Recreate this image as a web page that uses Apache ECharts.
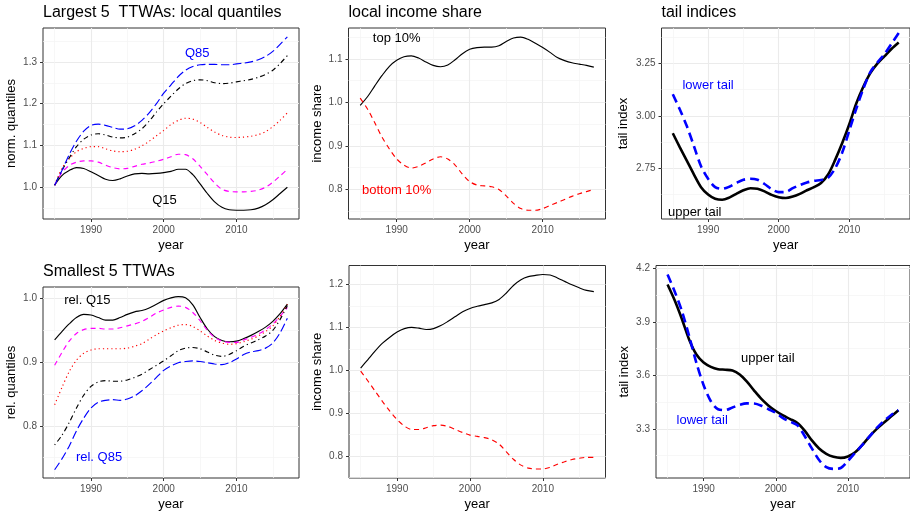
<!DOCTYPE html>
<html>
<head>
<meta charset="utf-8">
<script src="https://cdn.jsdelivr.net/npm/echarts@6/dist/echarts.min.js"></script>
<style>
  html, body { margin: 0; padding: 0; background: #ffffff; }
  #chart { width: 910px; height: 512px; }
</style>
</head>
<body>
<div id="chart"></div>
<script>
// Years at which the smoothed series are sampled
const years = [1985, 1986, 1987, 1988, 1989, 1990, 1991, 1992, 1993, 1994, 1995, 1996, 1997, 1998, 1999, 2000,
               2001, 2002, 2003, 2004, 2005, 2006, 2007, 2008, 2009, 2010, 2011, 2012, 2013, 2014, 2015, 2016, 2017];

// Largest 5 TTWAs: local quantiles, normalised to 1985
const largeQ15 = [1.005, 1.028, 1.040, 1.047, 1.045, 1.037, 1.028, 1.019, 1.016, 1.020, 1.027, 1.032, 1.033, 1.032, 1.033, 1.035,
                  1.038, 1.043, 1.043, 1.030, 1.008, 0.985, 0.965, 0.952, 0.946, 0.945, 0.945, 0.946, 0.950, 0.958, 0.970, 0.985, 1.000];
const largeQ30 = [1.005, 1.035, 1.052, 1.060, 1.063, 1.063, 1.060, 1.053, 1.047, 1.044, 1.045, 1.050, 1.055, 1.058, 1.062, 1.067,
                  1.073, 1.079, 1.078, 1.068, 1.050, 1.030, 1.010, 0.995, 0.990, 0.989, 0.989, 0.990, 0.993, 1.000, 1.012, 1.027, 1.043];
const largeQ50 = [1.005, 1.045, 1.068, 1.085, 1.093, 1.097, 1.097, 1.092, 1.087, 1.085, 1.086, 1.091, 1.099, 1.110, 1.123, 1.136,
                  1.150, 1.160, 1.165, 1.163, 1.155, 1.143, 1.132, 1.124, 1.120, 1.119, 1.120, 1.122, 1.126, 1.133, 1.145, 1.160, 1.178];
const largeQ70 = [1.005, 1.040, 1.070, 1.097, 1.115, 1.125, 1.128, 1.125, 1.120, 1.118, 1.120, 1.128, 1.140, 1.158, 1.180, 1.200,
                  1.218, 1.235, 1.248, 1.255, 1.257, 1.255, 1.250, 1.248, 1.249, 1.252, 1.255, 1.258, 1.263, 1.270, 1.280, 1.296, 1.315];
const largeQ85 = [1.005, 1.040, 1.078, 1.110, 1.134, 1.148, 1.151, 1.148, 1.143, 1.139, 1.140, 1.147, 1.160, 1.178, 1.200, 1.225,
                  1.245, 1.265, 1.280, 1.289, 1.293, 1.294, 1.294, 1.293, 1.293, 1.295, 1.297, 1.300, 1.305, 1.313, 1.325, 1.342, 1.360];

// Largest 5 TTWAs: local income shares
const largeTop10 = [0.993, 1.013, 1.038, 1.062, 1.083, 1.097, 1.105, 1.107, 1.102, 1.093, 1.085, 1.082, 1.086, 1.098, 1.112, 1.122,
                    1.126, 1.127, 1.127, 1.130, 1.140, 1.148, 1.150, 1.145, 1.136, 1.126, 1.115, 1.103, 1.096, 1.091, 1.088, 1.085, 1.081];
const largeBottom10 = [1.010, 0.985, 0.953, 0.920, 0.893, 0.870, 0.856, 0.849, 0.853, 0.861, 0.870, 0.875, 0.870, 0.856, 0.835, 0.818,
                       0.810, 0.808, 0.806, 0.800, 0.785, 0.768, 0.756, 0.752, 0.752, 0.756, 0.763, 0.770, 0.777, 0.784, 0.790, 0.795, 0.800];

// Largest 5 TTWAs: tail indices
const largeUpperTail = [2.917, 2.850, 2.785, 2.720, 2.660, 2.625, 2.605, 2.600, 2.610, 2.628, 2.645, 2.655, 2.652, 2.640, 2.623, 2.612,
                        2.608, 2.615, 2.628, 2.645, 2.660, 2.680, 2.720, 2.790, 2.870, 2.960, 3.060, 3.140, 3.205, 3.250, 3.285, 3.320, 3.350];
const largeLowerTail = [3.103, 3.030, 2.950, 2.855, 2.760, 2.700, 2.660, 2.652, 2.662, 2.680, 2.695, 2.700, 2.695, 2.675, 2.650, 2.636,
                        2.637, 2.655, 2.670, 2.682, 2.690, 2.694, 2.705, 2.750, 2.825, 2.930, 3.035, 3.130, 3.210, 3.255, 3.295, 3.345, 3.395];

// Smallest 5 TTWAs: quantiles relative to the largest
const smallQ15 = [0.935, 0.948, 0.960, 0.970, 0.975, 0.974, 0.970, 0.966, 0.966, 0.970, 0.975, 0.979, 0.981, 0.985, 0.991, 0.997,
                  1.001, 1.003, 1.001, 0.990, 0.970, 0.952, 0.940, 0.934, 0.932, 0.933, 0.937, 0.942, 0.948, 0.955, 0.964, 0.976, 0.991];
const smallQ30 = [0.895, 0.915, 0.933, 0.945, 0.951, 0.953, 0.953, 0.952, 0.952, 0.954, 0.957, 0.960, 0.964, 0.970, 0.977, 0.982,
                  0.986, 0.988, 0.986, 0.978, 0.965, 0.950, 0.939, 0.933, 0.931, 0.931, 0.935, 0.939, 0.944, 0.951, 0.960, 0.972, 0.986];
const smallQ50 = [0.833, 0.860, 0.885, 0.903, 0.914, 0.919, 0.921, 0.921, 0.921, 0.921, 0.922, 0.925, 0.929, 0.936, 0.943, 0.949,
                  0.954, 0.958, 0.959, 0.956, 0.949, 0.941, 0.934, 0.930, 0.928, 0.929, 0.932, 0.936, 0.941, 0.948, 0.957, 0.972, 0.991];
const smallQ70 = [0.770, 0.785, 0.805, 0.828, 0.848, 0.862, 0.869, 0.871, 0.870, 0.870, 0.872, 0.876, 0.881, 0.888, 0.895, 0.902,
                  0.910, 0.918, 0.922, 0.923, 0.921, 0.916, 0.911, 0.909, 0.912, 0.918, 0.925, 0.930, 0.935, 0.941, 0.950, 0.967, 0.989];
const smallQ85 = [0.731, 0.748, 0.768, 0.792, 0.812, 0.828, 0.837, 0.840, 0.841, 0.840, 0.842, 0.847, 0.855, 0.865, 0.876, 0.887,
                  0.894, 0.899, 0.901, 0.902, 0.901, 0.899, 0.897, 0.896, 0.899, 0.905, 0.912, 0.916, 0.918, 0.922, 0.930, 0.946, 0.969];

// Smallest 5 TTWAs: local income shares
const smallTop10 = [1.005, 1.025, 1.045, 1.063, 1.077, 1.089, 1.097, 1.100, 1.098, 1.095, 1.097, 1.104, 1.114, 1.125, 1.136, 1.144,
                    1.149, 1.153, 1.157, 1.165, 1.180, 1.198, 1.211, 1.218, 1.221, 1.223, 1.222, 1.215, 1.207, 1.199, 1.192, 1.186, 1.183];
const smallBottom10 = [0.998, 0.975, 0.951, 0.927, 0.905, 0.885, 0.870, 0.862, 0.862, 0.866, 0.871, 0.872, 0.869, 0.862, 0.855, 0.849,
                       0.846, 0.843, 0.838, 0.828, 0.810, 0.792, 0.779, 0.772, 0.770, 0.770, 0.774, 0.781, 0.787, 0.792, 0.795, 0.797, 0.797];

// Smallest 5 TTWAs: tail indices
const smallUpperTail = [4.110, 4.020, 3.915, 3.800, 3.717, 3.672, 3.648, 3.635, 3.632, 3.627, 3.605, 3.565, 3.515, 3.468, 3.430, 3.400,
                        3.375, 3.355, 3.333, 3.290, 3.235, 3.190, 3.160, 3.143, 3.137, 3.145, 3.168, 3.210, 3.258, 3.300, 3.335, 3.370, 3.404];
const smallLowerTail = [4.166, 4.070, 3.960, 3.820, 3.670, 3.545, 3.455, 3.410, 3.405, 3.420, 3.435, 3.443, 3.442, 3.430, 3.410, 3.390,
                        3.360, 3.340, 3.320, 3.260, 3.190, 3.125, 3.085, 3.075, 3.080, 3.120, 3.165, 3.210, 3.258, 3.305, 3.345, 3.378, 3.405];

// Tick values
const xTicks = [1990, 2000, 2010];
const xMinorTicks = [1985, 1995, 2005, 2015];
const yTicksLargeQ = [1.0, 1.1, 1.2, 1.3];
const yMinorLargeQ = [0.95, 1.05, 1.15, 1.25, 1.35];
const yTicksLargeShare = [0.8, 0.9, 1.0, 1.1];
const yMinorLargeShare = [0.75, 0.85, 0.95, 1.05, 1.15];
const yTicksLargeTail = [2.75, 3.0, 3.25];
const yMinorLargeTail = [2.625, 2.875, 3.125, 3.375];
const yTicksSmallQ = [0.8, 0.9, 1.0];
const yMinorSmallQ = [0.75, 0.85, 0.95];
const yTicksSmallShare = [0.8, 0.9, 1.0, 1.1, 1.2];
const yMinorSmallShare = [0.75, 0.85, 0.95, 1.05, 1.15];
const yTicksSmallTail = [3.3, 3.6, 3.9, 4.2];
const yMinorSmallTail = [3.15, 3.45, 3.75, 4.05];

// ---- styling ----
const FONT = '"Liberation Sans", Arial, Helvetica, sans-serif';
const BLUE = '#0000ff', RED = '#ff0000', MAGENTA = '#ff00ff', BLACK = '#000000';
const THIN = 1.15, THICK = 2.6;
const styles = {
  solid:    { width: THIN, type: 'solid' },
  dashed:   { width: THIN, type: [5, 4] },
  dotted:   { width: THIN, type: [1.2, 3] },
  dotdash:  { width: THIN, type: [1.2, 3.2, 5, 3.2] },
  longdash: { width: THIN, type: [8.5, 3.5] },
  thickSolid:  { width: THICK, type: 'solid' },
  thickDashed: { width: THICK, type: [9, 5] }
};
const xRange = [1983.4, 2018.6];

const panels = [
  {
    title: 'Largest 5  TTWAs: local quantiles',
    rect: { left: 43, top: 28, width: 256, height: 191 },
    yRange: [0.924, 1.381], yTicks: yTicksLargeQ, yMinor: yMinorLargeQ, digits: 1,
    yName: 'norm. quantiles', yNameGap: 25,
    lines: [
      { data: largeQ15, color: BLACK, style: 'solid' },
      { data: largeQ30, color: MAGENTA, style: 'dashed' },
      { data: largeQ50, color: RED, style: 'dotted' },
      { data: largeQ70, color: BLACK, style: 'dotdash' },
      { data: largeQ85, color: BLUE, style: 'longdash' }
    ],
    notes: [
      { text: 'Q85', at: [2004.6, 1.321], color: BLUE },
      { text: 'Q15', at: [2000.1, 0.969], color: BLACK }
    ]
  },
  {
    title: 'local income share',
    rect: { left: 348.5, top: 28, width: 257, height: 191 },
    yRange: [0.732, 1.171], yTicks: yTicksLargeShare, yMinor: yMinorLargeShare, digits: 1,
    yName: 'income share', yNameGap: 25,
    lines: [
      { data: largeTop10, color: BLACK, style: 'solid' },
      { data: largeBottom10, color: RED, style: 'dashed' }
    ],
    notes: [
      { text: 'top 10%', at: [1990, 1.148], color: BLACK },
      { text: 'bottom 10%', at: [1990, 0.798], color: RED }
    ]
  },
  {
    title: 'tail indices',
    rect: { left: 661.5, top: 28, width: 252, height: 191 },
    yRange: [2.508, 3.419], yTicks: yTicksLargeTail, yMinor: yMinorLargeTail, digits: 2,
    yName: 'tail index', yNameGap: 32,
    lines: [
      { data: largeUpperTail, color: BLACK, style: 'thickSolid' },
      { data: largeLowerTail, color: BLUE, style: 'thickDashed' }
    ],
    notes: [
      { text: 'lower tail', at: [1990, 3.145], color: BLUE },
      { text: 'upper tail', at: [1988.1, 2.54], color: BLACK }
    ]
  },
  {
    title: 'Smallest 5 TTWAs',
    rect: { left: 43, top: 287, width: 256, height: 191 },
    yRange: [0.718, 1.018], yTicks: yTicksSmallQ, yMinor: yMinorSmallQ, digits: 1,
    yName: 'rel. quantiles', yNameGap: 25,
    lines: [
      { data: smallQ15, color: BLACK, style: 'solid' },
      { data: smallQ30, color: MAGENTA, style: 'dashed' },
      { data: smallQ50, color: RED, style: 'dotted' },
      { data: smallQ70, color: BLACK, style: 'dotdash' },
      { data: smallQ85, color: BLUE, style: 'longdash' }
    ],
    notes: [
      { text: 'rel. Q15', at: [1989.5, 0.997], color: BLACK },
      { text: 'rel. Q85', at: [1991.1, 0.75], color: BLUE }
    ]
  },
  {
    title: '',
    rect: { left: 349, top: 265.5, width: 256.5, height: 212.5 },
    yRange: [0.749, 1.244], yTicks: yTicksSmallShare, yMinor: yMinorSmallShare, digits: 1,
    yName: 'income share', yNameGap: 25,
    lines: [
      { data: smallTop10, color: BLACK, style: 'solid' },
      { data: smallBottom10, color: RED, style: 'dashed' }
    ],
    notes: []
  },
  {
    title: '',
    rect: { left: 656, top: 265.5, width: 255, height: 212.5 },
    yRange: [3.024, 4.217], yTicks: yTicksSmallTail, yMinor: yMinorSmallTail, digits: 1,
    yName: 'tail index', yNameGap: 25,
    lines: [
      { data: smallUpperTail, color: BLACK, style: 'thickSolid' },
      { data: smallLowerTail, color: BLUE, style: 'thickDashed' }
    ],
    notes: [
      { text: 'upper tail', at: [1998.9, 3.693], color: BLACK },
      { text: 'lower tail', at: [1989.8, 3.349], color: BLUE }
    ]
  }
];

const grid = [], xAxis = [], yAxis = [], series = [], title = [];
const majorSplit = { show: true, lineStyle: { color: '#ebebeb', width: 1.1 } };
const minorSplit = { show: true, lineStyle: { color: '#f4f4f4', width: 0.7 } };
const tickStyle = { color: '#333333', width: 1 };
const tickLabel = { color: '#4d4d4d', fontSize: 10, fontFamily: FONT };
const axisName = { color: '#000000', fontSize: 13, fontFamily: FONT };

panels.forEach((p, i) => {
  grid.push(Object.assign({ show: true, borderColor: '#333333', borderWidth: 1, backgroundColor: '#ffffff', containLabel: false }, p.rect));
  if (p.title) {
    title.push({
      text: p.title, left: p.rect.left, top: p.rect.top - 23, padding: 0,
      textStyle: { fontSize: 16, fontWeight: 'normal', color: '#000000', fontFamily: FONT }
    });
  }
  // main x axis
  xAxis.push({
    type: 'value', gridIndex: i, min: xRange[0], max: xRange[1], position: 'bottom',
    axisLine: { show: false },
    axisTick: { show: true, length: 3, lineStyle: tickStyle, customValues: xTicks },
    axisLabel: Object.assign({ customValues: xTicks, margin: 6, formatter: v => String(Math.round(v)) }, tickLabel),
    splitLine: majorSplit,
    name: 'year', nameLocation: 'middle', nameGap: 20, nameTextStyle: axisName
  });
  // minor x grid lines
  xAxis.push({
    type: 'value', gridIndex: i, min: xRange[0], max: xRange[1], position: 'bottom',
    axisLine: { show: false }, axisLabel: { show: false },
    axisTick: { show: false, customValues: xMinorTicks },
    splitLine: minorSplit
  });
  // main y axis
  yAxis.push({
    type: 'value', gridIndex: i, min: p.yRange[0], max: p.yRange[1], position: 'left',
    axisLine: { show: false },
    axisTick: { show: true, length: 3, lineStyle: tickStyle, customValues: p.yTicks },
    axisLabel: Object.assign({ customValues: p.yTicks, margin: 6, formatter: v => v.toFixed(p.digits) }, tickLabel),
    splitLine: majorSplit,
    name: p.yName, nameLocation: 'middle', nameGap: p.yNameGap, nameTextStyle: axisName
  });
  // minor y grid lines
  yAxis.push({
    type: 'value', gridIndex: i, min: p.yRange[0], max: p.yRange[1], position: 'left',
    axisLine: { show: false }, axisLabel: { show: false },
    axisTick: { show: false, customValues: p.yMinor },
    splitLine: minorSplit
  });

  p.lines.forEach((ln, k) => {
    const s = styles[ln.style];
    const item = {
      type: 'line', xAxisIndex: 2 * i, yAxisIndex: 2 * i,
      data: years.map((yr, j) => [yr, ln.data[j]]),
      smooth: 0.3, showSymbol: false, symbol: 'none', silent: true,
      lineStyle: { color: ln.color, width: s.width, type: s.type, cap: 'butt' },
      z: 3 + k
    };
    if (k === 0 && p.notes.length) {
      item.markPoint = {
        symbol: 'circle', symbolSize: 1, silent: true,
        itemStyle: { color: 'rgba(0,0,0,0)' },
        data: p.notes.map(n => ({
          coord: n.at,
          label: { show: true, position: 'inside', formatter: n.text, color: n.color, fontSize: 13, fontFamily: FONT }
        }))
      };
    }
    series.push(item);
  });
});

const chart = echarts.init(document.getElementById('chart'), null, { renderer: 'canvas' });
chart.setOption({ animation: false, backgroundColor: '#ffffff', title, grid, xAxis, yAxis, series });
</script>
</body>
</html>
